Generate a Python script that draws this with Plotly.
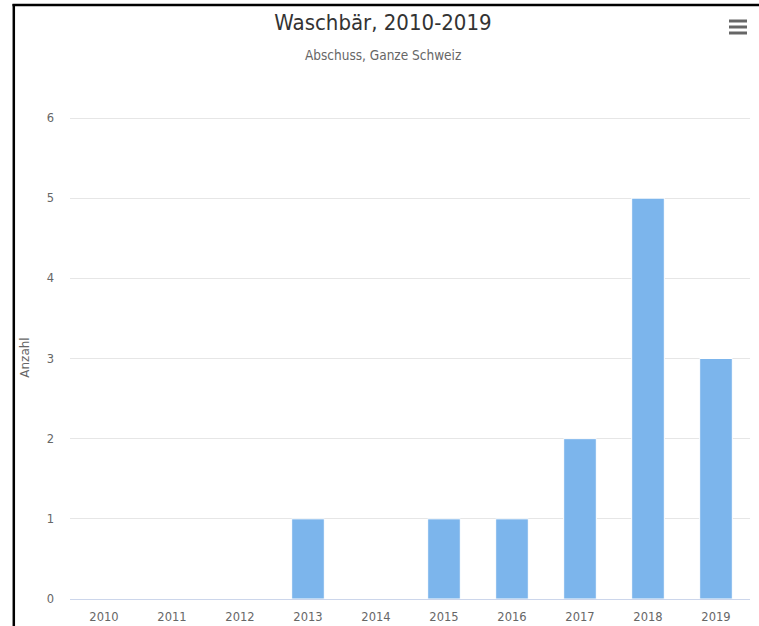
import plotly.graph_objects as go

years = ["2010", "2011", "2012", "2013", "2014", "2015", "2016", "2017", "2018", "2019"]
abschuss = [0, 0, 0, 1, 0, 1, 1, 2, 5, 3]
y_ticks = [0, 1, 2, 3, 4, 5, 6]

title_text = "Waschbär, 2010-2019"
subtitle_text = "Abschuss, Ganze Schweiz"
y_title = "Anzahl"

W, H = 759, 626
ML, MR, MT, MB = 70, 9, 116, 27
PW, PH = W - ML - MR, H - MT - MB
Y_TOP = 6 * PH / (PH - 2)  # keep top gridline 2px inside the plot area

def px_x(x):
    return (x - ML) / PW

def px_y(y):
    return (H - MB - y) / PH

cond = "DejaVu Sans Condensed, Roboto Condensed, sans-serif"
tickfam = "DejaVu Sans, Verdana, sans-serif"

fig = go.Figure(go.Bar(
    x=years, y=abschuss,
    marker=dict(color="#7cb5ec", line=dict(color="#ffffff", width=1)),
    width=0.48,
))

shapes = []
# black frame (top & left)
shapes.append(dict(type="line", xref="paper", yref="paper", x0=px_x(12.5), x1=px_x(W), y0=px_y(5), y1=px_y(5),
                   line=dict(color="#000000", width=2.5)))
shapes.append(dict(type="line", xref="paper", yref="paper", x0=px_x(13.8), x1=px_x(13.8), y0=px_y(4), y1=px_y(H),
                   line=dict(color="#000000", width=2.5)))
# hamburger menu icon
for yy in (21, 27, 33):
    shapes.append(dict(type="line", xref="paper", yref="paper", x0=px_x(729), x1=px_x(747), y0=px_y(yy), y1=px_y(yy),
                       line=dict(color="#666666", width=3)))

fig.update_layout(
    width=W, height=H,
    margin=dict(l=ML, r=MR, t=MT, b=MB, pad=0, autoexpand=False),
    paper_bgcolor="#ffffff", plot_bgcolor="#ffffff",
    showlegend=False,
    title=dict(text=title_text, x=px_x(383), xref="paper", xanchor="center", y=1 - 22 / H, yanchor="middle",
               font=dict(family=cond, size=22, color="#333333")),
    annotations=[dict(text=subtitle_text, xref="paper", yref="paper", x=px_x(383), y=px_y(55),
                      xanchor="center", yanchor="middle", showarrow=False,
                      font=dict(family=cond, size=13.5, color="#666666"))],
    shapes=shapes,
    xaxis=dict(type="category", showgrid=False, showline=True, linecolor="#ccd6eb", linewidth=1,
               automargin=False,
               ticks="", tickfont=dict(family=tickfam, size=11.5, color="#666666"),
               ticklabelstandoff=7),
    yaxis=dict(range=[0, Y_TOP], tickvals=y_ticks, showgrid=True, gridcolor="#e6e6e6", gridwidth=1,
               automargin=False,
               zeroline=False, showline=False, ticks="",
               tickfont=dict(family=tickfam, size=11.5, color="#666666"),
               ticklabelstandoff=15,
               title=dict(text=y_title, standoff=14, font=dict(family=tickfam, size=12, color="#666666"))),
)

fig.write_html("out.html", config={"displayModeBar": False},
               post_script="document.body.style.margin='0';document.body.style.overflow='hidden';")
